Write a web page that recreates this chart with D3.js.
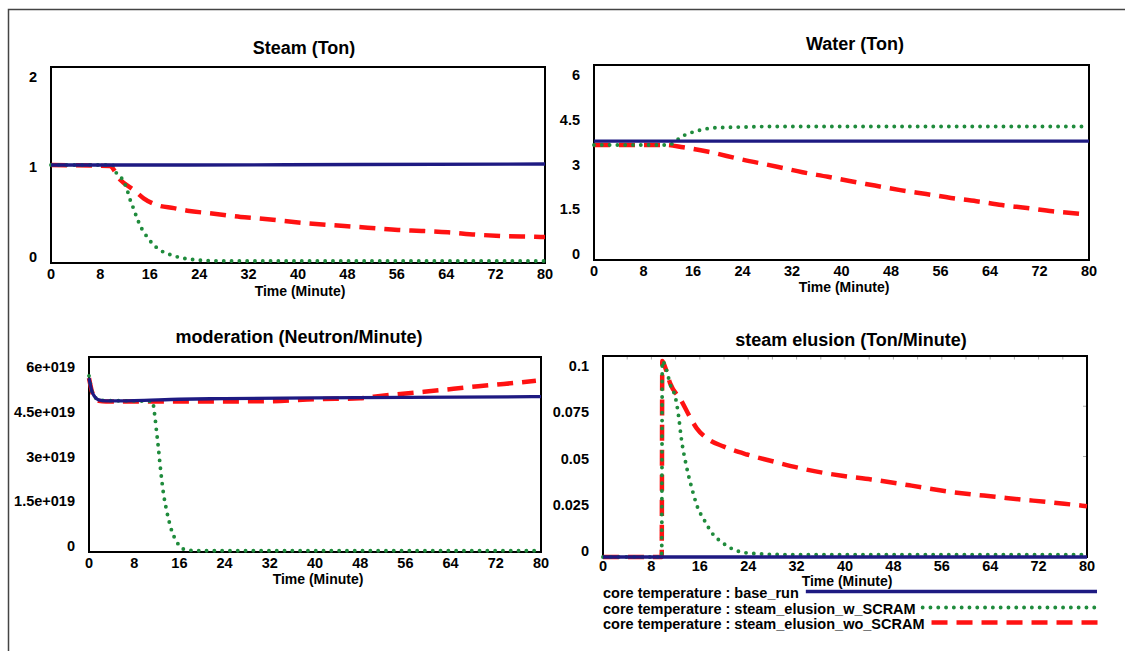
<!DOCTYPE html>
<html>
<head>
<meta charset="utf-8">
<script src="https://cdn.jsdelivr.net/npm/d3@7"></script>
<style>
  body { margin: 0; background: #fff; }
  text { font-family: "Liberation Sans", Arial, sans-serif; font-weight: bold; fill: #000; }
</style>
</head>
<body>
<div id="chart"></div>
<script>
// time axis, shared by the four graphs (minutes)
var timeTicks = [0, 8, 16, 24, 32, 40, 48, 56, 64, 72, 80];

var legendLabels = [
  "core temperature : base_run",
  "core temperature : steam_elusion_w_SCRAM",
  "core temperature : steam_elusion_wo_SCRAM"
];

// Steam (Ton)  [time, value]
var steamYTicks = [0, 1, 2];
var steamBase = [[0, 1.0], [22, 1.0], [50, 1.005], [80, 1.01]];
var steamW = [[0, 1.0], [10, 1.0], [10.4, 0.94], [11.8, 0.83], [12.2, 0.77], [12.9, 0.63], [13.4, 0.55],
  [13.8, 0.48], [14.7, 0.35], [15.3, 0.29], [16.4, 0.2], [17.7, 0.13], [19.1, 0.09], [21, 0.054],
  [23.1, 0.034], [27, 0.022], [35, 0.02], [80, 0.02]];
var steamWo = [[0, 1.0], [9.5, 0.99], [11.2, 0.85], [13.4, 0.745], [15, 0.66], [17.2, 0.59], [19.9, 0.56],
  [22.1, 0.534], [26.4, 0.503], [30.7, 0.47], [33.4, 0.456], [41.6, 0.405], [47.5, 0.378], [51.3, 0.36],
  [56.2, 0.337], [60, 0.327], [64.3, 0.313], [68.7, 0.29], [73, 0.276], [78.4, 0.268], [80, 0.265]];

// Water (Ton)
var waterYTicks = [0, 1.5, 3, 4.5, 6];
var waterBase = [[0, 3.66], [80, 3.66]];
var waterW = [[0, 3.54], [12, 3.54], [14.4, 3.82], [16.8, 3.98], [19.7, 4.07], [23.7, 4.09], [30, 4.11], [80, 4.11]];
var waterWo = [[0, 3.54], [11.5, 3.54], [14.4, 3.47], [18.5, 3.33], [23.7, 3.10], [29.6, 2.87], [33.7, 2.70],
  [37.8, 2.56], [41.3, 2.43], [45.4, 2.29], [49.5, 2.15], [53.7, 2.03], [57.7, 1.91], [61.8, 1.81],
  [65.9, 1.69], [70, 1.60], [74.1, 1.50], [79.4, 1.41]];

// moderation (Neutron/Minute), values in units of 1e19
var modYTicks = [0, 1.5, 3, 4.5, 6];
var modYLabels = ["0", "1.5e+019", "3e+019", "4.5e+019", "6e+019"];
var modBase = [[0, 5.35], [0.5, 4.95], [1, 4.78], [1.7, 4.68], [3, 4.65], [8, 4.66], [16, 4.70],
  [24, 4.72], [40, 4.74], [56, 4.76], [80, 4.78]];
var modW = [[0, 5.42], [0.5, 4.95], [1, 4.78], [1.7, 4.68], [3, 4.66], [11.2, 4.64], [11.67, 4.16],
  [11.96, 3.70], [12.26, 3.24], [12.55, 2.73], [12.86, 2.24], [13.2, 1.78], [13.7, 1.31], [14.3, 0.86],
  [14.7, 0.62], [15.2, 0.42], [15.8, 0.24], [16.7, 0.09], [17.9, 0.05], [20, 0.04], [80, 0.04]];
var modWo = [[0, 5.35], [0.5, 4.95], [1, 4.75], [1.7, 4.65], [3, 4.63], [16, 4.63], [32, 4.64],
  [40, 4.70], [48, 4.73], [50.4, 4.78], [54.3, 4.85], [59.3, 4.93], [64.5, 5.02], [68.9, 5.10],
  [73.4, 5.17], [79.1, 5.27]];

// steam elusion (Ton/Minute)
var elYTicks = [0, 0.025, 0.05, 0.075, 0.1];
var elBase = [[0, 0], [80, 0]];
var elW = [[0, 0], [9.7, 0], [9.8, 0.0975], [10.5, 0.093], [11.1, 0.086], [12, 0.079], [12.5, 0.07],
  [12.9, 0.06], [13.8, 0.045], [14.7, 0.034], [15.6, 0.025], [16.8, 0.018], [18, 0.012], [19.8, 0.007],
  [22.2, 0.003], [24.6, 0.0018], [30, 0.0012], [80, 0.0012]];
var elWo = [[0, 0], [9.7, 0], [9.8, 0.0975], [10.2, 0.095], [11.1, 0.0864], [12.9, 0.078], [14.2, 0.0706],
  [15.5, 0.064], [17.2, 0.059], [20, 0.0549], [23.8, 0.051], [28.3, 0.0474], [32.7, 0.0441],
  [39.5, 0.0404], [44.3, 0.0386], [51, 0.0355], [55.4, 0.0333], [60.4, 0.0313], [64.8, 0.030],
  [68.7, 0.0287], [73.1, 0.0275], [78.1, 0.0259], [80, 0.0253]];

var w = 1125, h = 651;

// line look for base_run, w_SCRAM, wo_SCRAM
var styles = [
  { color: "#1e1a82", width: 3.3, dash: null, cap: "butt" },
  { color: "#1f8b3c", width: 3.9, dash: "0 7.8", cap: "round" },
  { color: "#ff1212", width: 4.5, dash: "16 9", cap: "butt" }
];
var drawOrder = [2, 1, 0];

var panels = [
  { title: "Steam (Ton)", yMax: 2, ticks: steamYTicks, labels: null, data: [steamBase, steamW, steamWo],
    box: [51, 67, 545, 263], tickGap: 11, titleAt: [304, 48], xTitleAt: [300, 291] },
  { title: "Water (Ton)", yMax: 6, ticks: waterYTicks, labels: null, data: [waterBase, waterW, waterWo],
    box: [594, 65, 1089, 260], tickGap: 11, titleAt: [855, 44], xTitleAt: [844, 287] },
  { title: "moderation (Neutron/Minute)", yMax: 6, ticks: modYTicks, labels: modYLabels, data: [modBase, modW, modWo],
    box: [89, 357, 541, 552], tickGap: 11, titleAt: [299, 337], xTitleAt: [318, 579] },
  { title: "steam elusion (Ton/Minute)", yMax: 0.1, ticks: elYTicks, labels: null, data: [elBase, elW, elWo],
    box: [603, 356, 1087, 557], tickGap: 9, titleAt: [851, 340], xTitleAt: [847, 581], minor: true }
];

var svg = d3.select("#chart").append("svg")
  .attr("width", w)
  .attr("height", h);

svg.append("rect").attr("width", w).attr("height", h).attr("fill", "#fff");

// outer frame (top and left edges only are visible)
svg.append("path")
  .attr("d", "M8.5," + h + "V9.5H" + w)
  .attr("fill", "none")
  .attr("stroke", "#444")
  .attr("stroke-width", 1.5);

panels.forEach(function (p) {
  var b = p.box;
  var x = d3.scaleLinear().domain([0, 80]).range([b[0], b[2]]);
  var y = d3.scaleLinear().domain([0, p.yMax]).range([b[3], b[1]]);
  // tick labels sit a bit inside the frame, like the original tool does
  var yl = d3.scaleLinear().domain([0, p.yMax]).range([b[3] - 6, b[1] + 10]);
  var g = svg.append("g");

  g.append("rect")
    .attr("x", b[0]).attr("y", b[1])
    .attr("width", b[2] - b[0]).attr("height", b[3] - b[1])
    .attr("fill", "none").attr("stroke", "#000").attr("stroke-width", 2);

  if (p.minor) {
    g.selectAll(".mt").data(d3.range(4, 80, 4)).enter().append("line")
      .attr("x1", function (d) { return x(d); }).attr("x2", function (d) { return x(d); })
      .attr("y1", b[1] + 1).attr("y2", b[1] + 3.5)
      .attr("stroke", "#aaa").attr("stroke-width", 1);
    g.selectAll(".mr").data(p.ticks.slice(1, -1)).enter().append("line")
      .attr("x1", b[2] - 4).attr("x2", b[2] - 1)
      .attr("y1", function (d) { return y(d); }).attr("y2", function (d) { return y(d); })
      .attr("stroke", "#aaa").attr("stroke-width", 1);
  }

  g.append("text")
    .attr("x", p.titleAt[0]).attr("y", p.titleAt[1]).attr("dy", "0.35em")
    .attr("text-anchor", "middle").style("font-size", "18px")
    .text(p.title);

  g.selectAll(".xt").data(timeTicks).enter().append("text")
    .attr("x", function (d) { return x(d); })
    .attr("y", b[3] + p.tickGap).attr("dy", "0.35em")
    .attr("text-anchor", "middle").style("font-size", "14.5px")
    .text(function (d) { return d; });

  g.append("text")
    .attr("x", p.xTitleAt[0]).attr("y", p.xTitleAt[1]).attr("dy", "0.35em")
    .attr("text-anchor", "middle").style("font-size", "14px")
    .text("Time (Minute)");

  g.selectAll(".yt").data(p.ticks).enter().append("text")
    .attr("x", b[0] - 14)
    .attr("y", function (d) { return yl(d); }).attr("dy", "0.35em")
    .attr("text-anchor", "end").style("font-size", "14.5px")
    .text(function (d, i) { return p.labels ? p.labels[i] : String(d); });

  var line = d3.line()
    .x(function (d) { return x(d[0]); })
    .y(function (d) { return y(d[1]); })
    .curve(d3.curveMonotoneX);

  drawOrder.forEach(function (k) {
    var s = styles[k];
    g.append("path")
      .attr("d", line(p.data[k]))
      .attr("fill", "none")
      .attr("stroke", s.color)
      .attr("stroke-width", s.width)
      .attr("stroke-linecap", s.cap)
      .attr("stroke-linejoin", "round")
      .attr("stroke-dasharray", s.dash);
  });
});

// legend under the last graph
var legendY = [593, 609, 624];
var legendEnd = [1097, 1097, 1103];
legendLabels.forEach(function (lab, i) {
  var t = svg.append("text")
    .attr("x", 603).attr("y", legendY[i]).attr("dy", "0.35em")
    .style("font-size", "14.5px")
    .text(lab);
  var x0 = 603 + t.node().getComputedTextLength() + 7;
  var s = styles[i];
  svg.append("line")
    .attr("x1", x0).attr("x2", legendEnd[i])
    .attr("y1", legendY[i] - 1.5).attr("y2", legendY[i] - 1.5)
    .attr("stroke", s.color)
    .attr("stroke-width", s.width)
    .attr("stroke-linecap", s.cap)
    .attr("stroke-dasharray", s.dash);
});
</script>
</body>
</html>
